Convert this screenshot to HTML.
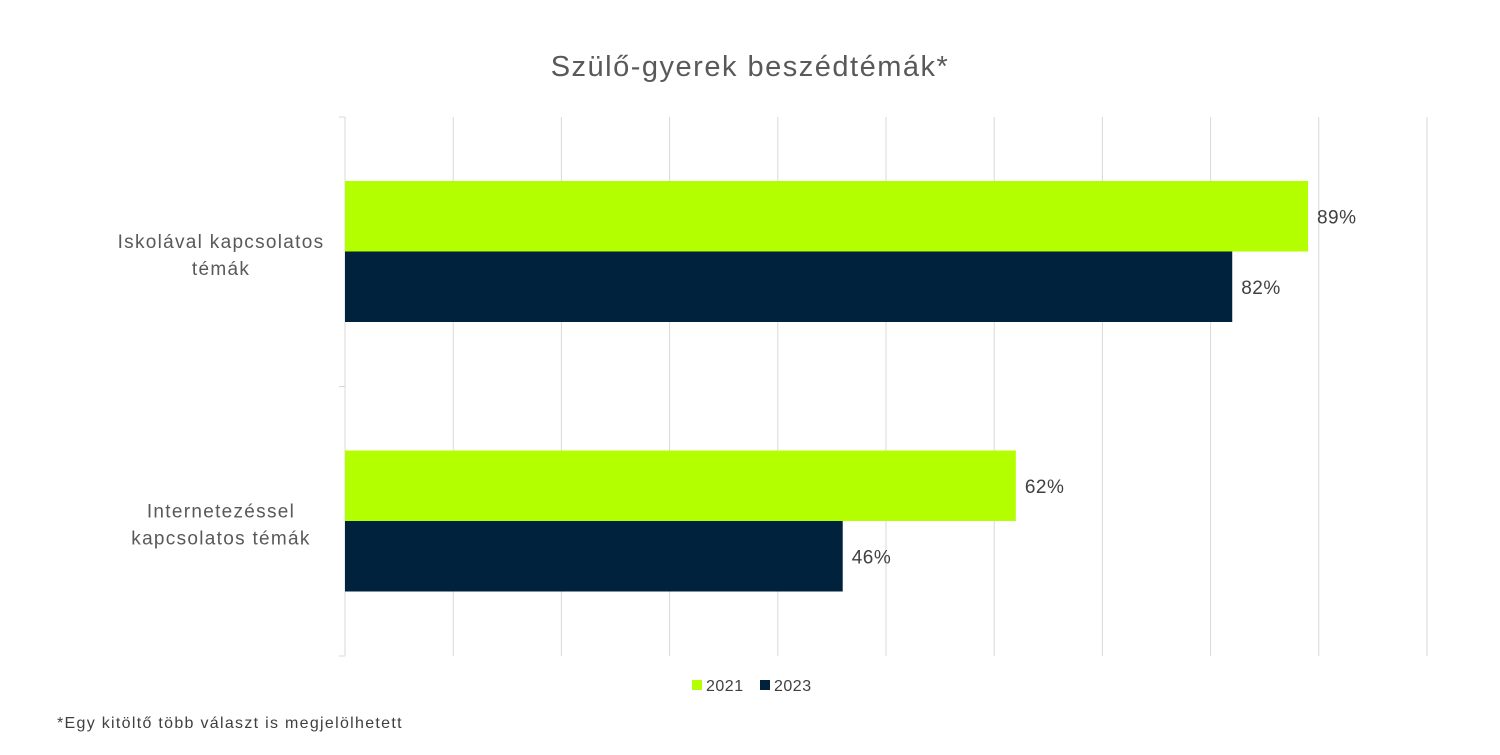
<!DOCTYPE html>
<html><head><meta charset="utf-8"><style>
body{margin:0;background:#fff;font-family:"Liberation Sans",sans-serif;}
svg text{font-family:"Liberation Sans",sans-serif;}
</style></head><body>
<svg id="c" width="1500" height="750">
<text x="750" y="76" text-anchor="middle" font-size="29" letter-spacing="1.5" fill="#595959">Szülő-gyerek beszédtémák*</text>
<g id="grid"></g><g id="bars"></g><g id="labels"></g>
<rect x="692" y="680" width="10" height="10" fill="#b3ff00"/>
<text x="706" y="691" font-size="16" letter-spacing="0.5" fill="#404040">2021</text>
<rect x="760" y="680" width="10" height="10" fill="#00223d"/>
<text x="774" y="691" font-size="16" letter-spacing="0.5" fill="#404040">2023</text>
<text x="57" y="728" font-size="16" letter-spacing="1.3" fill="#404040">*Egy kitöltő több választ is megjelölhetett</text>
</svg>
<script>
const categories=[["Iskolával kapcsolatos","témák"],["Internetezéssel","kapcsolatos témák"]];
const series2021=[89,62];
const series2023=[82,46];
const seriesNames=["2021","2023"];
const NS="http://www.w3.org/2000/svg";
const x0=345,x1=1427,yTop=117,yBot=656;
const xs=v=>x0+(x1-x0)*v/100;
const band=(yBot-yTop)/categories.length;
function mk(t,a,p){const e=document.createElementNS(NS,t);for(const k in a)e.setAttribute(k,a[k]);p.appendChild(e);return e;}
const grid=document.getElementById('grid'),bars=document.getElementById('bars'),labels=document.getElementById('labels');
for(let i=1;i<=10;i++){
  const g=mk('line',{x1:xs(i*10),x2:xs(i*10),y1:yTop,y2:yBot,stroke:'#d9d9d9','stroke-width':1},grid);
  
  
}
const ax=mk('line',{x1:x0,x2:x0,y1:yTop,y2:yBot,stroke:'#d9d9d9','stroke-width':1},grid);


for(let i=0;i<=categories.length;i++){
  const t=mk('line',{x1:x0-6,x2:x0,y1:yTop+band*i,y2:yTop+band*i,stroke:'#d9d9d9'},grid);
  
  
}
const colors=["#b3ff00","#00223d"];
categories.forEach((c,i)=>{
  const top=yTop+band*i+64, bh=70.5;
  [series2021[i],series2023[i]].forEach((v,j)=>{
    const y=top+j*bh;
    const r=mk('rect',{x:x0,y:y,width:xs(v)-x0,height:bh,fill:colors[j]},bars);
    
    
    const t=mk('text',{x:xs(v)+9,y:y+bh/2+7,'font-size':19,'letter-spacing':0.5,fill:'#404040'},labels);
    t.textContent=v+'%';
    
    
  });
  const cy=yTop+band*i+band/2;
  c.forEach((line,k)=>{
    const t=mk('text',{x:221,y:cy-4+k*27,'text-anchor':'middle','font-size':19,'letter-spacing':1.3,fill:'#595959'},labels);
    t.textContent=line;
    
    
  });
});
</script>
</body></html>
